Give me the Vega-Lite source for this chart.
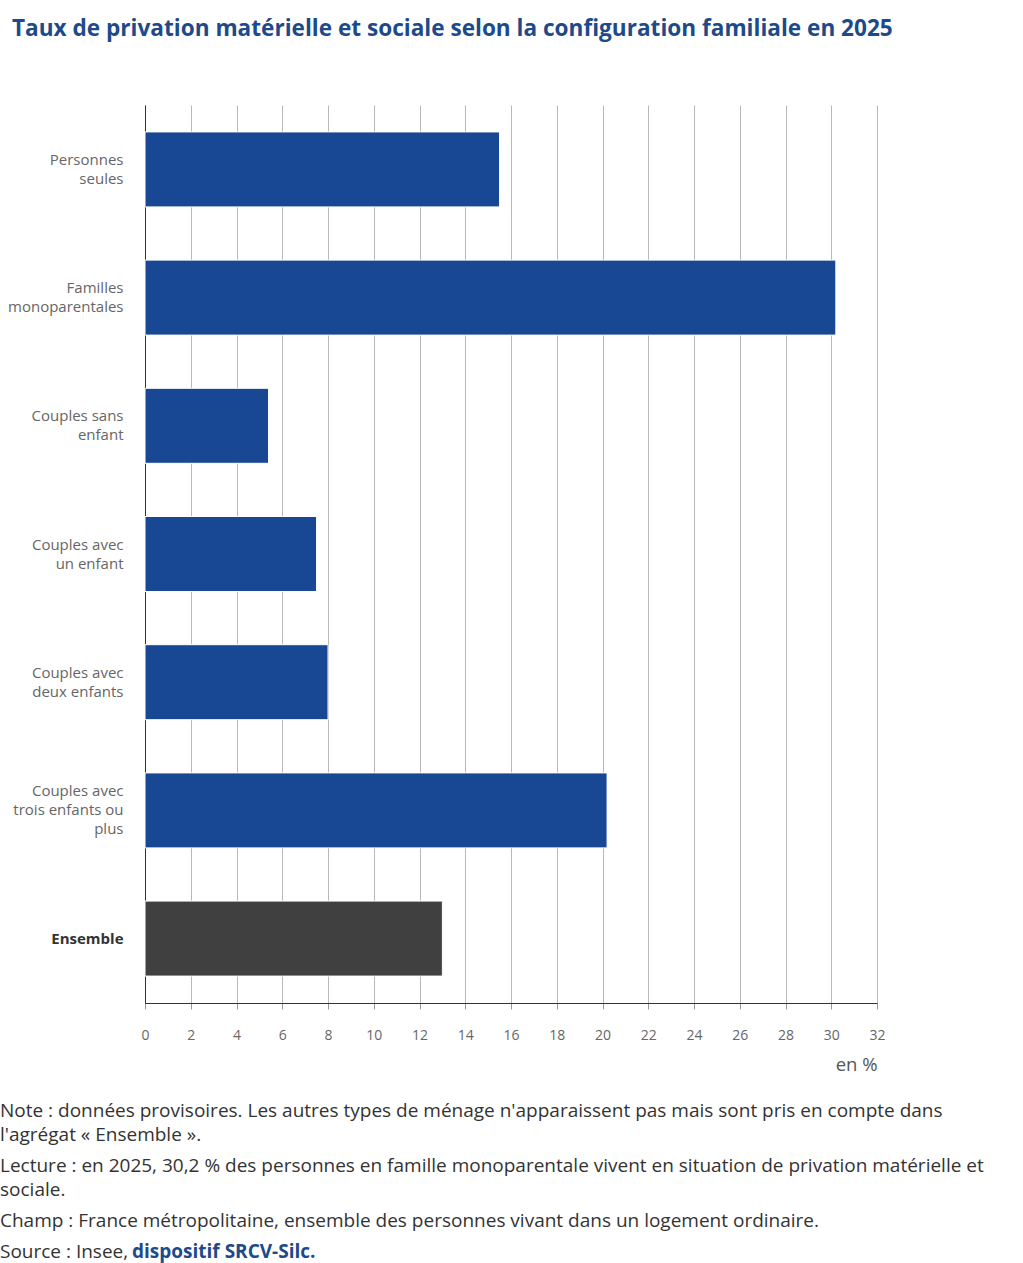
{
  "$schema": "https://vega.github.io/schema/vega-lite/v6.json",
  "background": "white",
  "padding": {"left": 0, "top": 18, "right": 0, "bottom": 0},
  "config": {
    "view": {"stroke": null},
    "font": "Open Sans",
    "title": {"font": "Open Sans"},
    "axis": {"labelFont": "Open Sans", "titleFont": "Open Sans"}
  },
  "title": {
    "text": "Taux de privation matérielle et sociale selon la configuration familiale en 2025",
    "anchor": "start",
    "fontSize": 22.6,
    "fontWeight": "bold",
    "color": "#1d4a8a",
    "dx": 12,
    "offset": 64
  },
  "spacing": 28,
  "vconcat": [
    {
      "width": 732,
      "height": 898,
      "data": {
        "values": [
          {"configuration": "Personnes|seules", "taux": 15.5, "groupe": "type"},
          {"configuration": "Familles|monoparentales", "taux": 30.2, "groupe": "type"},
          {"configuration": "Couples sans|enfant", "taux": 5.4, "groupe": "type"},
          {"configuration": "Couples avec|un enfant", "taux": 7.5, "groupe": "type"},
          {"configuration": "Couples avec|deux enfants", "taux": 8.0, "groupe": "type"},
          {"configuration": "Couples avec|trois enfants ou|plus", "taux": 20.2, "groupe": "type"},
          {"configuration": "Ensemble", "taux": 13.0, "groupe": "ensemble"}
        ]
      },
      "mark": {"type": "bar", "stroke": "#ffffff", "strokeWidth": 1},
      "encoding": {
        "y": {
          "field": "configuration",
          "type": "nominal",
          "sort": null,
          "scale": {"paddingInner": 0.415, "paddingOuter": 0.21},
          "axis": {
            "title": null,
            "labelExpr": "split(datum.value, '|')",
            "ticks": false,
            "domainColor": "#333333",
            "labelPadding": 22,
            "labelFontSize": 15,
            "labelLineHeight": 19,
            "labelLimit": 300,
            "labelOffset": {
              "condition": [
                {"test": "datum.value === 'Ensemble'", "value": 0},
                {"test": "indexof(datum.value, 'ou|') >= 0", "value": -19}
              ],
              "value": -9.5
            },
            "labelColor": {"condition": {"test": "datum.value === 'Ensemble'", "value": "#333333"}, "value": "#666666"},
            "labelFontWeight": {"condition": {"test": "datum.value === 'Ensemble'", "value": "bold"}, "value": "normal"}
          }
        },
        "x": {
          "field": "taux",
          "type": "quantitative",
          "scale": {"domain": [0, 32], "nice": false},
          "axis": {
            "values": [0, 2, 4, 6, 8, 10, 12, 14, 16, 18, 20, 22, 24, 26, 28, 30, 32],
            "grid": true,
            "gridColor": "#b8b8b8",
            "gridWidth": 1,
            "domainColor": "#333333",
            "tickColor": "#999999",
            "tickSize": 6,
            "labelFlush": false,
            "labelFontSize": 14,
            "labelColor": "#666666",
            "labelPadding": 19,
            "title": "en %",
            "titleAnchor": "end",
            "titleAlign": "right",
            "titleFontWeight": "normal",
            "titleFontSize": 18.5,
            "titleColor": "#555555",
            "titlePadding": 13
          }
        },
        "color": {
          "field": "groupe",
          "type": "nominal",
          "scale": {"domain": ["type", "ensemble"], "range": ["#184894", "#404040"]},
          "legend": null
        }
      }
    },
    {
      "spacing": -8,
      "vconcat": [
        {
          "width": 1, "height": 0,
          "data": {"values": []},
          "mark": "text",
          "encoding": {},
          "title": {
            "text": ["Note : données provisoires. Les autres types de ménage n'apparaissent pas mais sont pris en compte dans", "l'agrégat « Ensemble »."],
            "anchor": "start", "orient": "top", "offset": 0, "dx": -145,
            "fontSize": 19, "fontWeight": "normal", "color": "#333333", "lineHeight": 24
          }
        },
        {
          "width": 1, "height": 0,
          "data": {"values": []},
          "mark": "text",
          "encoding": {},
          "title": {
            "text": ["Lecture : en 2025, 30,2 % des personnes en famille monoparentale vivent en situation de privation matérielle et", "sociale."],
            "anchor": "start", "orient": "top", "offset": 0, "dx": -145,
            "fontSize": 19, "fontWeight": "normal", "color": "#333333", "lineHeight": 24
          }
        },
        {
          "width": 1, "height": 0,
          "data": {"values": []},
          "mark": "text",
          "encoding": {},
          "title": {
            "text": "Champ : France métropolitaine, ensemble des personnes vivant dans un logement ordinaire.",
            "anchor": "start", "orient": "top", "offset": 0, "dx": -145,
            "fontSize": 19, "fontWeight": "normal", "color": "#333333", "lineHeight": 24
          }
        },
        {
          "spacing": 0,
          "bounds": "flush",
          "hconcat": [
            {
              "width": 1, "height": 0,
              "data": {"values": []},
              "mark": "text",
              "encoding": {},
              "title": {
                "text": "Source : Insee,",
                "anchor": "start", "orient": "top", "offset": 0, "dx": -145,
                "fontSize": 19, "fontWeight": "normal", "color": "#333333", "lineHeight": 24
              }
            },
            {
              "width": 1, "height": 0,
              "data": {"values": []},
              "mark": "text",
              "encoding": {},
              "title": {
                "text": "dispositif SRCV-Silc.",
                "anchor": "start", "orient": "top", "offset": 0, "dx": -14,
                "fontSize": 19, "fontWeight": "bold", "color": "#1d4a8a", "lineHeight": 24
              }
            }
          ]
        }
      ]
    }
  ]
}
